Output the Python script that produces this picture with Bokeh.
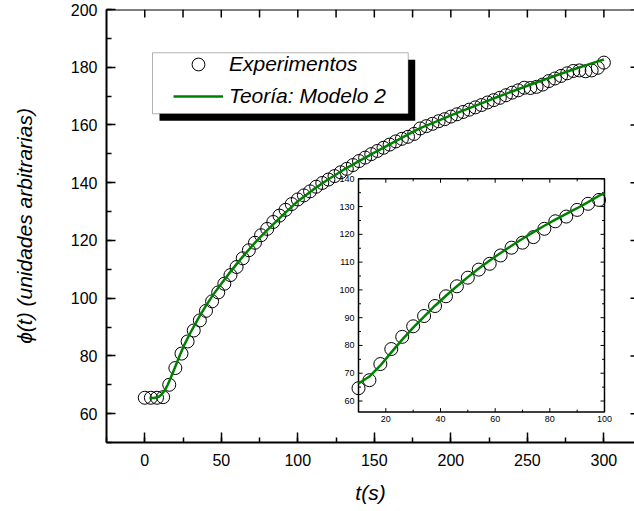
from bokeh.plotting import figure
from bokeh.models import (Range1d, SingleIntervalTicker, BoxAnnotation,
                          Legend, LegendItem, Span)
from bokeh.core.properties import value
from bokeh.embed import file_html
from bokeh.resources import INLINE

# ---------------- data ----------------
t_exp = list(range(0, 301, 4))
phi_exp = [65.5, 65.5, 65.5, 65.7, 70.0, 75.8, 80.8, 85.0, 88.8, 92.3,
           95.6, 98.9, 102.0, 105.0, 108.0, 110.8, 113.8, 116.6, 119.2, 121.8,
           124.0, 126.4, 128.6, 130.6, 132.6, 134.2, 135.6, 137.0, 138.6, 139.9,
           141.1, 142.3, 143.6, 144.8, 146.1, 147.5, 148.7, 149.9, 151.0, 152.1,
           153.2, 154.3, 155.2, 155.9, 156.9, 158.8, 159.6, 160.4, 161.3, 162.0,
           162.9, 163.7, 164.5, 165.3, 166.1, 166.9, 167.8, 168.6, 169.4, 170.3,
           171.2, 172.0, 172.9, 172.8, 173.2, 174.0, 175.2, 176.1, 177.0, 177.9,
           178.7, 178.9, 178.6, 178.9, 179.8, 181.6]

t_model = [3, 6, 9, 11, 13, 15, 17, 19, 21, 23, 26, 30, 35, 40, 45, 50, 55, 60,
           65, 70, 75, 80, 90, 100, 110, 120, 130, 140, 150, 160, 170, 180, 190,
           200, 210, 220, 230, 240, 250, 260, 270, 280, 290, 300]
phi_model = [65.4, 65.4, 65.8, 66.6, 68.0, 70.0, 72.4, 75.0, 77.7, 80.3, 84.0,
             88.2, 93.0, 97.4, 101.4, 105.0, 108.5, 111.8, 115.0, 118.0, 120.9,
             123.6, 128.7, 133.6, 137.6, 141.2, 144.5, 147.5, 150.4, 153.3, 156.1,
             158.9, 161.1, 163.3, 165.4, 167.5, 169.6, 171.6, 173.6, 175.5, 177.4,
             179.2, 181.0, 182.7]

# inset (zoom on the first 100 s)
t_inset = list(range(10, 99, 4))
phi_inset = [64.6, 67.5, 73.3, 78.7, 83.1, 86.9, 90.6, 94.2, 97.7, 101.3,
             104.4, 107.3, 109.4, 112.4, 115.2, 117.0, 119.0, 122.0, 124.7, 126.4,
             128.8, 131.0, 132.4]
t_inset_model = [10, 14, 18, 22, 26, 30, 34, 38, 42, 46, 50, 54, 58, 62, 66, 70,
                 74, 78, 82, 86, 90, 94, 98, 100]
phi_inset_model = [66.3, 68.8, 72.8, 77.5, 82.1, 86.4, 90.4, 94.3, 97.9, 101.3,
                   104.6, 107.7, 110.6, 113.3, 115.9, 118.4, 120.8, 123.1, 125.3,
                   127.4, 129.4, 131.6, 133.9, 134.8]

# main frame limits and the tick marks of its top / right edges
x_lim = (-25, 320)
y_lim = (50, 200)
top_ticks = list(range(0, 301, 25))
right_ticks = list(range(60, 201, 20))

inset_xlim = (10, 100)
inset_ylim = (56, 140)
inset_xticks = [20, 40, 60, 80, 100]
inset_xminor = [10, 30, 50, 70, 90]
inset_yticks = [60, 70, 80, 90, 100, 110, 120, 130, 140]
inset_yminor = [65, 75, 85, 95, 105, 115, 125, 135]

labels = ["Experimentos", "Teoría: Modelo 2"]

# ---------------- styles ----------------
FONT = "Liberation Sans"
GREEN = "#008000"
PI = 3.141592653589793

p = figure(frame_width=528, frame_height=433,
           x_range=Range1d(*x_lim), y_range=Range1d(*y_lim),
           output_backend="svg", toolbar_location=None,
           min_border_left=106, min_border_right=0, min_border_top=9,
           min_border_bottom=69, background_fill_color="white")
p.xgrid.visible = False
p.ygrid.visible = False
p.outline_line_color = None

xa = p.xaxis[0]
xa.ticker = SingleIntervalTicker(interval=50, num_minor_ticks=2)
ya = p.yaxis[0]
ya.ticker = SingleIntervalTicker(interval=20, num_minor_ticks=2)
for ax in (xa, ya):
    ax.major_tick_out = 0
    ax.minor_tick_out = 0
    ax.minor_tick_in = 5
    ax.axis_line_width = 2
    ax.major_tick_line_width = 1.5
    ax.minor_tick_line_width = 1.5
    ax.major_label_text_font = FONT
    ax.major_label_text_font_size = "16px"
    ax.major_label_text_color = "black"
    ax.axis_label_text_font = FONT
    ax.axis_label_text_font_style = "italic"
    ax.axis_label_text_font_size = "21px"
    ax.axis_label_text_color = "black"
xa.major_tick_in = 10
ya.major_tick_in = 9
xa.major_label_standoff = 11
ya.major_label_standoff = 9
xa.axis_label = "t(s)"
ya.axis_label = "ϕ(t) (unidades arbitrarias)"
xa.axis_label_standoff = 12
ya.axis_label_standoff = 32

# top edge line and its ticks, right edge ticks
p.add_layout(Span(location=y_lim[1], dimension="width", line_color="black", line_width=2))
edge = dict(line_color="black", line_width=1.5, length_units="screen")
p.ray(x=top_ticks, y=[y_lim[1]] * len(top_ticks), length=8, angle=-PI / 2, **edge)
p.ray(x=[x_lim[1]] * len(right_ticks), y=right_ticks, length=4, angle=PI, **edge)

# ---------------- inset (drawn through its own ranges) ----------------
p.extra_x_ranges = {"ix": Range1d(-82.2, 110.98)}
p.extra_y_ranges = {"iy": Range1d(45.06, 200.95)}
IR = dict(x_range_name="ix", y_range_name="iy")

p.quad(left=[inset_xlim[0]], right=[inset_xlim[1]], bottom=[inset_ylim[0]],
       top=[inset_ylim[1]], fill_color=None, line_color="black", line_width=1.5, **IR)
ny, nym = len(inset_yticks), len(inset_yminor)
nx, nxm = len(inset_xticks), len(inset_xminor)
tk = dict(line_color="black", line_width=1, length_units="screen", **IR)
p.ray(x=[inset_xlim[0]] * ny, y=inset_yticks, length=4, angle=0, **tk)
p.ray(x=[inset_xlim[1]] * ny, y=inset_yticks, length=4, angle=PI, **tk)
p.ray(x=[inset_xlim[0]] * nym, y=inset_yminor, length=2.5, angle=0, **tk)
p.ray(x=[inset_xlim[1]] * nym, y=inset_yminor, length=2.5, angle=PI, **tk)
p.ray(x=inset_xticks, y=[inset_ylim[0]] * nx, length=4, angle=PI / 2, **tk)
p.ray(x=inset_xticks, y=[inset_ylim[1]] * nx, length=4, angle=-PI / 2, **tk)
p.ray(x=inset_xminor, y=[inset_ylim[0]] * nxm, length=2.5, angle=PI / 2, **tk)
p.ray(x=inset_xminor, y=[inset_ylim[1]] * nxm, length=2.5, angle=-PI / 2, **tk)
p.text(x=[inset_xlim[0]] * ny, y=inset_yticks, text=[str(v) for v in inset_yticks],
       x_offset=-4, text_align="right", text_baseline="middle",
       text_font=value(FONT), text_font_size="9px", text_color="black", **IR)
p.text(x=inset_xticks, y=[inset_ylim[0]] * nx, text=[str(v) for v in inset_xticks],
       y_offset=4, text_align="center", text_baseline="top",
       text_font=value(FONT), text_font_size="9px", text_color="black", **IR)
p.scatter(t_inset, phi_inset, marker="circle", size=13, fill_color=None,
          line_color="black", line_width=1, **IR)
p.line(t_inset_model, phi_inset_model, line_color=GREEN, line_width=2.5, **IR)

# ---------------- main data ----------------
sc = p.scatter(t_exp, phi_exp, marker="circle", size=13, fill_color=None,
               line_color="black", line_width=1)
ln = p.line(t_model, phi_model, line_color=GREEN, line_width=2.5)

# ---------------- legend with drop shadow ----------------
shadow = BoxAnnotation(left=9.63, right=176.72, bottom=161.45, top=182.6,
                       fill_color="black", fill_alpha=1, line_color=None)
box = BoxAnnotation(left=5.06, right=172.15, bottom=163.87, top=185.0,
                    fill_color="white", fill_alpha=1, line_color="black", line_width=1)
p.add_layout(shadow)
p.add_layout(box)
legend = Legend(items=[LegendItem(label=labels[0], renderers=[sc]),
                       LegendItem(label=labels[1], renderers=[ln])],
                location=(67, 330), border_line_color=None, background_fill_alpha=0,
                padding=0, margin=0, spacing=-7, glyph_width=50, glyph_height=32,
                label_height=32, label_standoff=6, label_text_font=FONT,
                label_text_font_style="italic", label_text_font_size="21px",
                label_text_color="black")
p.add_layout(legend)

open("out.html", "w").write(file_html(p, INLINE))
